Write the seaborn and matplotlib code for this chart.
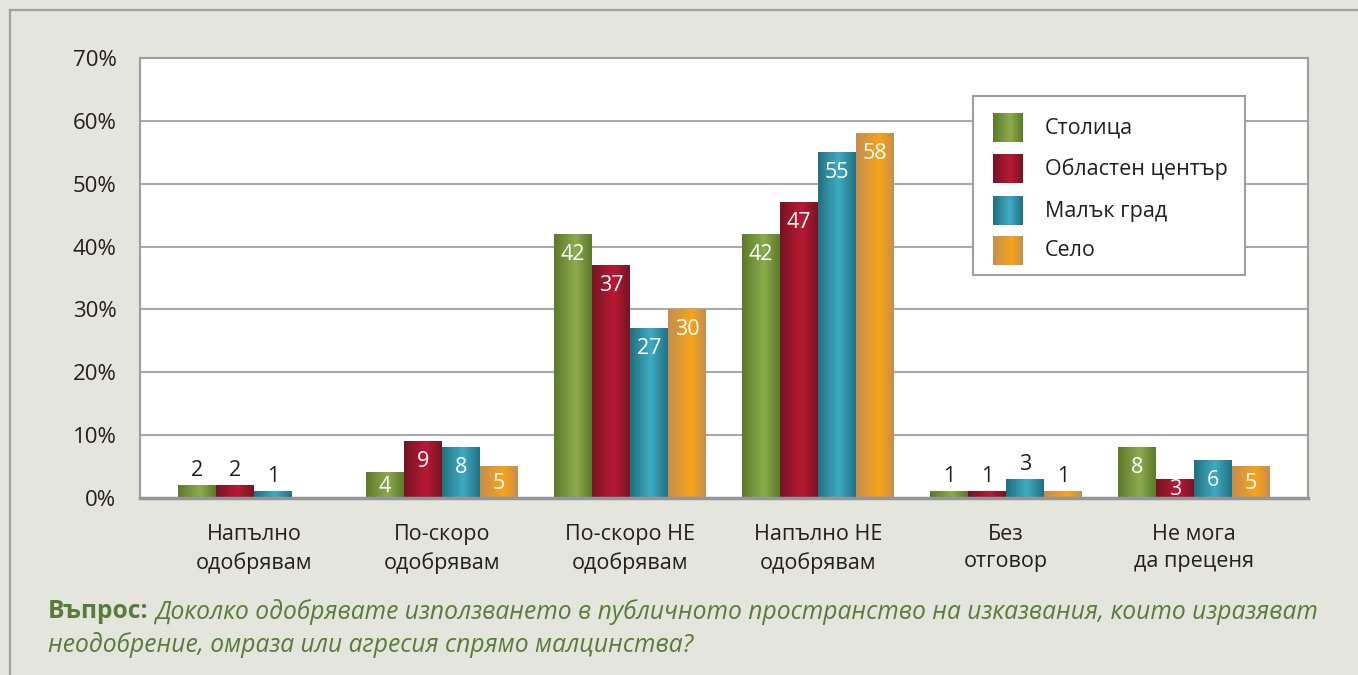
import numpy as np
import pandas as pd
import matplotlib
matplotlib.use("Agg")
import matplotlib.pyplot as plt
from matplotlib.colors import LinearSegmentedColormap
from matplotlib.lines import Line2D
import seaborn as sns

# ---- data ----
categories = ["Напълно\nодобрявам", "По-скоро\nодобрявам", "По-скоро НЕ\nодобрявам",
              "Напълно НЕ\nодобрявам", "Без\nотговор", "Не мога\nда преценя"]
series = ["Столица", "Областен център", "Малък град", "Село"]
stolica = [2, 4, 42, 42, 1, 8]
oblasten = [2, 9, 37, 47, 1, 3]
malak = [1, 8, 27, 55, 3, 6]
selo = [0, 5, 30, 58, 1, 5]
yticks = [0, 10, 20, 30, 40, 50, 60, 70]
question_bold = "Въпрос:"
question_line1 = "Доколко одобрявате използването в публичното пространство на изказвания, които изразяват"
question_line2 = "неодобрение, омраза или агресия спрямо малцинства?"

# ---- styling ----
plt.rcParams["font.family"] = ["Open Sans", "DejaVu Sans"]
BG = "#e4e6dd"
FRAME = "#a0a2a5"
TEXT = "#231f20"
QCOL = "#5b7a3c"
# (edge colour, highlight colour, highlight position) for the cylinder shading
shades = {
    "Столица": ("#5c7829", "#8dac4f", 0.58),
    "Областен център": ("#761424", "#b91a34", 0.58),
    "Малък град": ("#21707f", "#40abc4", 0.55),
    "Село": ("#c48e50", "#f7a41a", 0.62),
}
palette = {k: v[1] for k, v in shades.items()}


def shade_cmap(name):
    edge, mid, pos = shades[name]
    return LinearSegmentedColormap.from_list(name, [(0, edge), (pos, mid), (1, edge)])


grad = np.linspace(0, 1, 256)[None, :]

W, H = 1358, 675
fig = plt.figure(figsize=(W / 100, H / 100), dpi=100, facecolor=BG)

# outer frame (top and left edges)
fig.add_artist(Line2D([10 / W, 1], [1 - 10 / H, 1 - 10 / H], color=FRAME, lw=1.6))
fig.add_artist(Line2D([10 / W, 10 / W], [0, 1 - 10 / H], color=FRAME, lw=1.6))

ax = fig.add_axes([140 / W, 1 - 498 / H, 1168 / W, 440 / H])
ax.set_facecolor("white")

df = pd.DataFrame({
    "cat": np.repeat(categories, len(series)),
    "series": series * len(categories),
    "value": np.ravel(np.column_stack([stolica, oblasten, malak, selo])),
})

sns.barplot(data=df, x="cat", y="value", hue="series", order=categories,
            hue_order=series, palette=palette, width=0.808, gap=0,
            legend=False, ax=ax, saturation=1)

inside = [False, True, True, True, False, True]
px_per_unit = 440 / 70

for name, cont in zip(series, ax.containers):
    cmap = shade_cmap(name)
    for patch in cont:
        h = patch.get_height()
        patch.set_visible(False)
        if h <= 0:
            continue
        x0, w = patch.get_x(), patch.get_width()
        ax.imshow(grad, cmap=cmap, extent=(x0, x0 + w, 0, h), aspect="auto",
                  interpolation="bicubic", zorder=2)
        cx = x0 + w / 2
        ci = int(round(cx))
        label = f"{int(round(h))}"
        if inside[ci]:
            off_px = min(20, 0.55 * h * px_per_unit)
            ax.annotate(label, (cx, h), xytext=(0, -off_px * 0.72), textcoords="offset points",
                        ha="center", va="center", color="white", fontsize=15.5, zorder=3)
        else:
            ax.annotate(label, (cx, h), xytext=(0, 15 * 0.72), textcoords="offset points",
                        ha="center", va="center", color=TEXT, fontsize=15.5, zorder=3)

ax.set_xlim(-0.606, 5.606)
ax.set_ylim(0, 70)
ax.set_yticks(yticks)
ax.set_yticklabels([f"{v}%" for v in yticks])
ax.set_xlabel("")
ax.set_ylabel("")
ax.set_axisbelow(True)
ax.yaxis.grid(True, color="#a7a9ac", lw=1.5)
ax.xaxis.grid(False)
ax.tick_params(axis="both", length=0, colors=TEXT)
ax.tick_params(axis="y", pad=17, labelsize=16)
ax.tick_params(axis="x", pad=19, labelsize=15.5)
for lab in ax.get_xticklabels():
    lab.set_linespacing(1.38)
for side in ["left", "top", "right"]:
    ax.spines[side].set_color("#9d9fa2")
    ax.spines[side].set_linewidth(1.5)
ax.spines["bottom"].set_color("#939598")
ax.spines["bottom"].set_linewidth(2.5)
ax.spines["bottom"].set_zorder(4)

# ---- legend box ----
lx0, lx1, ly0, ly1 = 973, 1245, 96, 275
lax = fig.add_axes([lx0 / W, 1 - ly1 / H, (lx1 - lx0) / W, (ly1 - ly0) / H])
lax.set_facecolor("white")
lax.set_xticks([])
lax.set_yticks([])
for sp in lax.spines.values():
    sp.set_color("#9d9fa2")
    sp.set_linewidth(1.5)
for name, yc in zip(series, [128, 169, 211, 251]):
    lax.imshow(grad, cmap=shade_cmap(name), extent=(993, 1023, yc + 14.5, yc - 14.5),
               aspect="auto", interpolation="bicubic")
    lax.text(1045, yc, name, va="center", ha="left", fontsize=15.5, color=TEXT)
lax.set_xlim(lx0, lx1)
lax.set_ylim(ly1, ly0)

# ---- question footnote ----
t_bold = fig.text(48 / W, 1 - 612 / H, question_bold, fontsize=17.7, fontweight="bold",
                  color=QCOL, va="center", ha="left")
fig.canvas.draw()
bb = t_bold.get_window_extent(renderer=fig.canvas.get_renderer())
fig.text((bb.x1 + 7) / W, 1 - 612 / H, question_line1, fontsize=17.7, fontstyle="italic",
         color=QCOL, va="center", ha="left")
fig.text(48 / W, 1 - 645 / H, question_line2, fontsize=17.7, fontstyle="italic",
         color=QCOL, va="center", ha="left")

fig.savefig("out.png", dpi=100, facecolor=BG)
